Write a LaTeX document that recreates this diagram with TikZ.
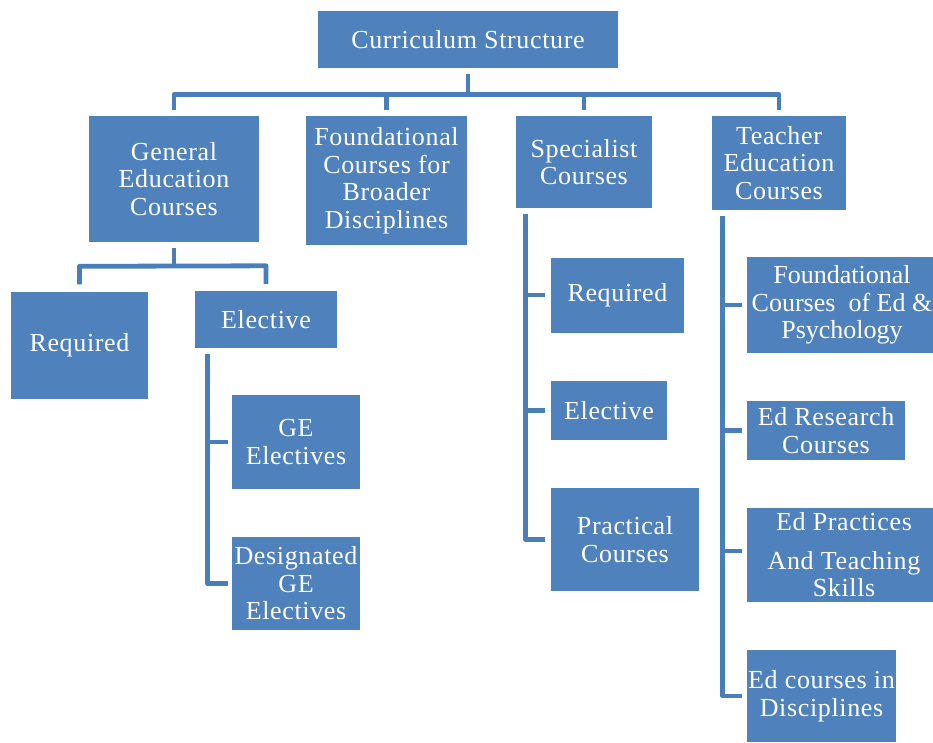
\documentclass[tikz,border=0pt]{standalone}
\usepackage{fontspec}
\setmainfont{Liberation Serif}[LetterSpace=2.5]
\newfontfamily\tightserif{Liberation Serif}
\definecolor{boxblue}{HTML}{4F81BD}
\definecolor{lineblue}{HTML}{4A7EBB}
\begin{document}
\begin{tikzpicture}[x=1pt,y=-1pt,
  box/.style={fill=boxblue, text=white, align=center, inner sep=0pt,
    font=\fontsize{26}{27.5}\selectfont},
  conn/.style={draw=lineblue, line width=4.8pt, line join=round}]
\useasboundingbox (0,0) rectangle (933,742);
% nodes
\node[box, minimum width=300, minimum height=57] (top) at (468,39.5) {Curriculum Structure};
\node[box, minimum width=170, minimum height=126] (ge) at (174,179) {General\\Education\\Courses};
\node[box, minimum width=161, minimum height=129] (fd) at (386.5,180.5) {Foundational\\Courses for\\Broader\\Disciplines};
\node[box, minimum width=136, minimum height=92] (sp) at (584,162) {Specialist\\Courses};
\node[box, minimum width=134, minimum height=94] (te) at (779,163) {Teacher\\Education\\Courses};
\node[box, minimum width=137, minimum height=107] (greq) at (79.5,345) {Required};
\node[box, minimum width=142, minimum height=57] (gel) at (266,319.5) {Elective};
\node[box, minimum width=128, minimum height=94] (gee) at (296,442) {GE\\Electives};
\node[box, minimum width=128, minimum height=93] (gde) at (296,583.5) {Designated\\GE\\Electives};
\node[box, minimum width=133, minimum height=75] (sreq) at (617.5,295) {Required};
\node[box, minimum width=116, minimum height=59] (sel) at (609,410.5) {Elective};
\node[box, minimum width=148, minimum height=103] (spr) at (625,539.5) {Practical\\Courses};
\node[box, minimum width=190, minimum height=96, font=\fontsize{26}{27.5}\tightserif] (t1) at (842,305) {Foundational\\Courses~ of Ed \&\\Psychology};
\node[box, minimum width=158, minimum height=59] (t2) at (826,430.5) {Ed Research\\Courses};
\node[box, minimum width=194, minimum height=94] (t3) at (844,555) {Ed Practices\\[11pt]And Teaching\\Skills};
\node[box, minimum width=149, minimum height=92] (t4) at (821.5,696) {Ed courses in\\Disciplines};
% top level connectors
\draw[conn] ([yshift=-6pt]top.south) -- ++(0,21);
\draw[conn] ([yshift=6pt]ge.north) -- ([yshift=21pt]ge.north) -- ([yshift=21pt]te.north) -- ([yshift=6pt]te.north);
\draw[conn] ([yshift=6pt]fd.north) -- ([yshift=21pt]fd.north);
\draw[conn] ([yshift=6pt]sp.north) -- ([yshift=21pt]sp.north);
% general education
\draw[conn] ([yshift=-6pt]ge.south) -- ([yshift=-23pt]ge.south);
\draw[conn] ([yshift=7pt]greq.north) -- ([yshift=25pt]greq.north) -- ([yshift=25pt]gel.north) -- ([yshift=7pt]gel.north);
% elective
\coordinate (ev) at ([xshift=13pt,yshift=-6pt]gel.south west);
\draw[conn] (ev) |- ([xshift=-4pt]gde.west);
\draw[conn] (ev |- gee.west) -- ([xshift=-4pt]gee.west);
% specialist
\coordinate (sv) at ([xshift=10pt,yshift=-6pt]sp.south west);
\draw[conn] (sv) |- ([xshift=-6pt]spr.west);
\foreach \n in {sreq,sel} \draw[conn] (sv |- \n.west) -- ([xshift=-6pt]\n.west);
% teacher
\coordinate (tv) at ([xshift=11pt,yshift=-6pt]te.south west);
\draw[conn] (tv) |- ([xshift=-5pt]t4.west);
\foreach \n in {t1,t2} \draw[conn] (tv |- \n.west) -- ([xshift=-5pt]\n.west);
\draw[conn] (tv |- t3.west) ++(0,-4) -- ([xshift=-5pt,yshift=4pt]t3.west);
\end{tikzpicture}
\end{document}
